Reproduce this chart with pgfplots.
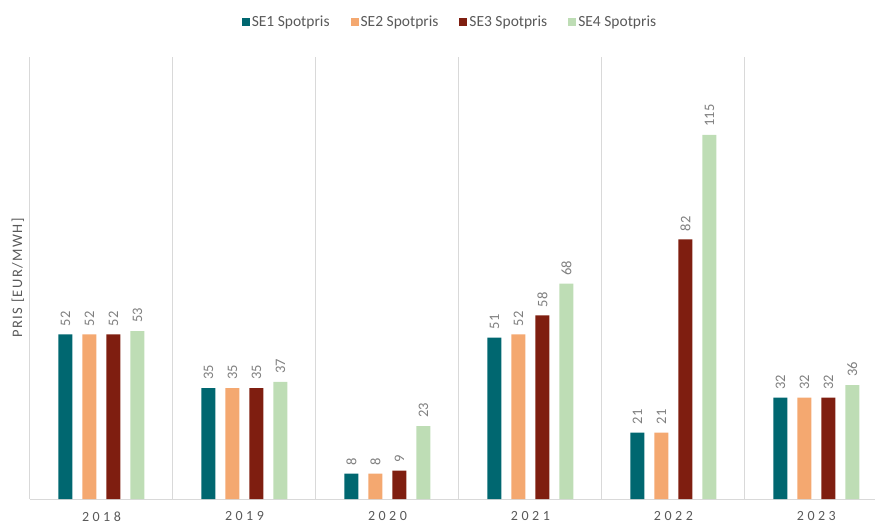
\documentclass[border=0pt]{standalone}
\usepackage{fontspec}
\setmainfont{Carlito}
\newfontfamily\spaced[LetterSpace=25]{Carlito}
\newfontfamily\lblspaced[LetterSpace=10]{Carlito}
\usepackage{pgfplots}
\pgfplotsset{compat=1.18}
\usepackage{pgfplotstable}

\definecolor{seA}{HTML}{006770}
\definecolor{seB}{HTML}{F4A870}
\definecolor{seC}{HTML}{7F1E10}
\definecolor{seD}{HTML}{BEDDB5}
\definecolor{txt}{HTML}{595959}
\definecolor{vals}{HTML}{7F7F7F}
\definecolor{sep}{HTML}{D9D9D9}

% one row per year: x index, SE1..SE4
\pgfplotstableread{
x se1 se2 se3 se4
0 52 52 52 53
1 35 35 35 37
2 8  8  9  23
3 51 52 58 68
4 21 21 82 115
5 32 32 32 36
}\prices

\begin{document}
\begin{tikzpicture}
\useasboundingbox (-30bp,-28bp) rectangle (845bp,499bp);
\begin{axis}[
    at={(0,0)}, anchor=south west,
    scale only axis,
    width=845bp, height=442bp,
    ybar=10bp, bar width=14bp,
    xmin=-0.5, xmax=5.41,
    ymin=0, ymax=139.6,
    /pgf/number format/assume math mode=true,
    xtick={0,...,5},
    xticklabels={2018,2019,2020,2021,2022,2023},
    minor xtick={-0.5,0.5,1.5,2.5,3.5,4.5},
    xminorgrids,
    minor grid style={draw=sep, line width=1bp},
    major tick length=0pt, minor tick length=0pt,
    ytick=\empty,
    separate axis lines,
    axis x line*=bottom,
    x axis line style={draw=sep, line width=1bp, -},
    axis y line*=left,
    y axis line style={draw=none},
    xticklabel style={font=\spaced\fontsize{14bp}{16bp}\selectfont, text=txt, yshift=-9bp},
    ylabel={PRIS [EUR/MWH]},
    ylabel style={at={(axis description cs:-0.0142,0.5)}, anchor=center,
        font=\lblspaced\fontsize{14.5bp}{16bp}\selectfont, text=txt},
    nodes near coords,
    every node near coord/.append style={rotate=90, anchor=west, inner xsep=8bp,
        font=\fontsize{14.5bp}{16bp}\selectfont, text=vals},
    legend columns=4,
    legend style={at={(0.497,1.079)}, anchor=center, draw=none, fill=none,
        font=\fontsize{15.5bp}{18bp}\selectfont, text=txt,
        nodes={inner xsep=2bp},
        /tikz/every even column/.append style={column sep=19bp}},
    sq/.style={legend image code/.code={\fill[##1] (0bp,-4bp) rectangle (8bp,4bp);}},
]
\addplot[fill=seA, draw=none, sq] table[x=x, y=se1] {\prices};
\addlegendentry{SE1 Spotpris}
\addplot[fill=seB, draw=none, sq] table[x=x, y=se2] {\prices};
\addlegendentry{SE2 Spotpris}
\addplot[fill=seC, draw=none, sq] table[x=x, y=se3] {\prices};
\addlegendentry{SE3 Spotpris}
\addplot[fill=seD, draw=none, sq] table[x=x, y=se4] {\prices};
\addlegendentry{SE4 Spotpris}
\end{axis}
\end{tikzpicture}
\end{document}
